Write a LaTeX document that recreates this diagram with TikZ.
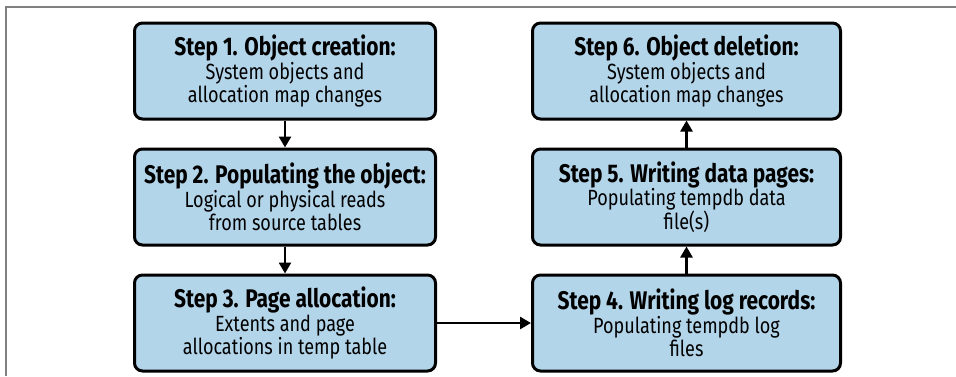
\documentclass[tikz,border=0pt]{standalone}
\usepackage{fontspec}
\setmainfont[FakeStretch=0.82]{Fira Sans}
\usetikzlibrary{arrows.meta,positioning}
\definecolor{boxblue}{RGB}{179,213,234}
\definecolor{framegray}{RGB}{128,128,128}
\tikzset{
  stepbox/.style={draw,line width=3pt,rounded corners=8pt,fill=boxblue,align=center,
    minimum height=96pt,inner sep=2pt,font=\fontsize{22}{23.5}\selectfont},
  leftbox/.style={stepbox,minimum width=301pt},
  rightbox/.style={stepbox,minimum width=308pt},
  arrow/.style={-{Triangle[length=11pt,width=12pt]},line width=2.6pt}
}
\newcommand{\steptitle}[1]{{\bfseries\fontsize{25.5}{27}\selectfont #1}}

\begin{document}
\begin{tikzpicture}[x=1pt,y=-1pt,node distance=27pt]
\useasboundingbox (0,0) rectangle (956,376);
\draw[framegray,line width=2pt] (6,376) -- (6,7) -- (956,7);
\node[leftbox] (create) at (285,71) {\steptitle{Step 1. Object creation:}\\System objects and\\allocation map changes};
\node[leftbox,below=of create] (populate) {\steptitle{Step 2. Populating the object:}\\Logical or physical reads\\from source tables};
\node[leftbox,below=of populate] (alloc) {\steptitle{Step 3. Page allocation:}\\Extents and page\\allocations in temp table};
\node[rightbox,right=94pt of alloc] (logrec) {\steptitle{Step 4. Writing log records:}\\Populating tempdb log\\files};
\node[rightbox,above=of logrec] (datapg) {\steptitle{Step 5. Writing data pages:}\\Populating tempdb data\\file(s)};
\node[rightbox,above=of datapg] (delete) {\steptitle{Step 6. Object deletion:}\\System objects and\\allocation map changes};
\draw[arrow] (create) -- (populate);
\draw[arrow] (populate) -- (alloc);
\draw[arrow] (alloc) -- (logrec);
\draw[arrow] (logrec) -- (datapg);
\draw[arrow] (datapg) -- (delete);
\end{tikzpicture}
\end{document}
